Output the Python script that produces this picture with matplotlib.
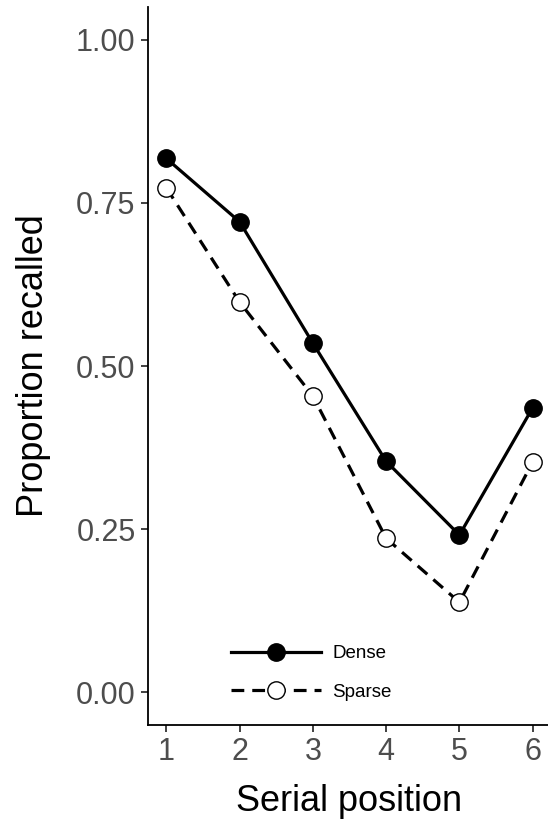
import matplotlib
matplotlib.use("Agg")
import matplotlib.pyplot as plt
from matplotlib.lines import Line2D

positions = [1, 2, 3, 4, 5, 6]
dense = [0.818, 0.721, 0.535, 0.354, 0.241, 0.436]
sparse = [0.773, 0.598, 0.454, 0.236, 0.138, 0.353]
yticks = [0.00, 0.25, 0.50, 0.75, 1.00]
ytick_labels = ["0.00", "0.25", "0.50", "0.75", "1.00"]

plt.rcParams['font.family'] = ['Liberation Sans', 'DejaVu Sans']

fig = plt.figure(figsize=(5.48, 8.31), dpi=100)
ax = fig.add_axes([148/548, 1-725/831, (551-148)/548, (725-7)/831])

ax.plot(positions, dense, color='black', lw=2.3, marker='o', ms=12.5,
        mfc='black', mec='black', solid_capstyle='butt', zorder=3)
ax.plot(positions, sparse, color='black', lw=2.3, ls=(0, (4, 2.5)), marker='o', ms=12.5,
        mfc='white', mec='black', mew=1.0, zorder=3)

ax.set_xlim(0.75, 6.25)
ax.set_ylim(-0.05, 1.05)
ax.set_xticks(positions)
ax.set_xticklabels([str(p) for p in positions])
ax.set_yticks(yticks)
ax.set_yticklabels(ytick_labels)
for s in ['top', 'right']:
    ax.spines[s].set_visible(False)
for s in ['left', 'bottom']:
    ax.spines[s].set_linewidth(1.3)
ax.tick_params(axis='both', length=5, width=1.3, color='#333333',
               labelsize=22, labelcolor='#4D4D4D', pad=4)
ax.set_xlabel("Serial position", fontsize=26, labelpad=12)
ax.set_ylabel("Proportion recalled", fontsize=26, labelpad=18)

handles = [
    Line2D([], [], color='black', lw=2.3, marker='o', ms=12.5, mfc='black', mec='black'),
    Line2D([], [], color='black', lw=2.3, ls=(0, (4, 2.5)), marker='o', ms=12.5,
           mfc='white', mec='black', mew=1.0),
]
leg = ax.legend(handles, ["Dense", "Sparse"], loc='center left',
                bbox_to_anchor=(66/403, 1-(673-7)/718), frameon=False,
                fontsize=13.5, handlelength=4.8, handletextpad=0.6,
                labelspacing=1.15)

fig.savefig("out.png", dpi=100)
